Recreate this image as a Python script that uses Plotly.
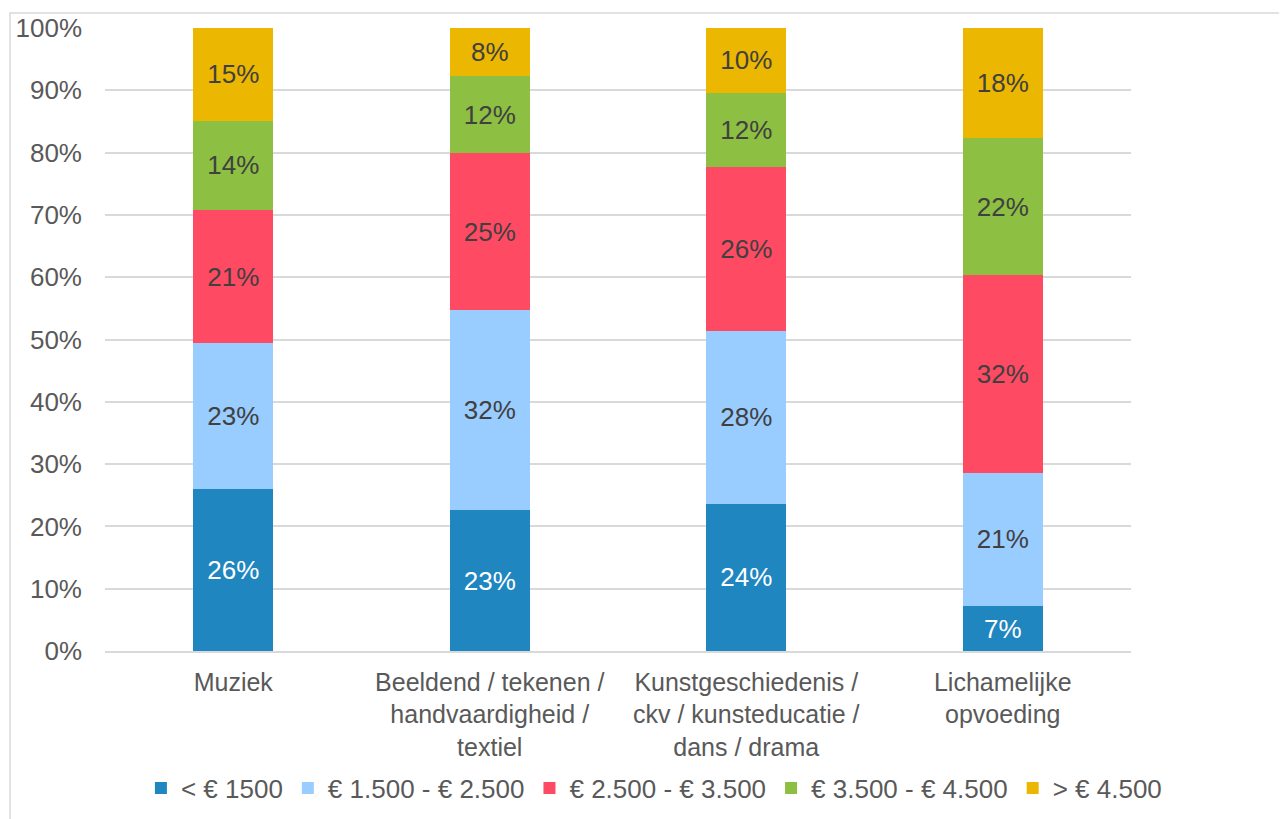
import plotly.graph_objects as go

categories = ["Muziek",
              "Beeldend / tekenen /<br>handvaardigheid /<br>textiel",
              "Kunstgeschiedenis /<br>ckv / kunsteducatie /<br>dans / drama",
              "Lichamelijke<br>opvoeding"]
series_names = ["< € 1500", "€ 1.500 - € 2.500", "€ 2.500 - € 3.500",
                "€ 3.500 - € 4.500", "> € 4.500"]
under_1500 = [0.260, 0.226, 0.236, 0.072]
from_1500_2500 = [0.234, 0.321, 0.278, 0.214]
from_2500_3500 = [0.214, 0.252, 0.263, 0.317]
from_3500_4500 = [0.143, 0.124, 0.119, 0.220]
over_4500 = [0.149, 0.077, 0.104, 0.177]
colors = ["#1F86C0", "#99CCFF", "#FF4A63", "#8DBF42", "#EBB700"]
label_colors = ["white", "#404040", "#404040", "#404040", "#404040"]

fig = go.Figure()
for name, vals, col, lc in zip(series_names,
                               [under_1500, from_1500_2500, from_2500_3500, from_3500_4500, over_4500],
                               colors, label_colors):
    fig.add_trace(go.Bar(x=categories, y=vals, name=name, marker=dict(color=col, line=dict(width=0)),
                         texttemplate="%{y:.0%}", textposition="inside", insidetextanchor="middle",
                         textfont=dict(color=lc, size=26), constraintext="none"))

# page body has an 8px margin, so the figure is 8px smaller and margins shifted
fig.update_layout(barmode="stack", bargap=0.688, width=1279, height=811,
                  margin=dict(l=97, r=156, t=20, b=168, autoexpand=False),
                  plot_bgcolor="white", paper_bgcolor="white",
                  font=dict(family="Liberation Sans, Arial", size=26, color="#595959"),
                  legend=dict(orientation="h", x=0.535, xanchor="center", y=-0.22, yanchor="middle",
                              font=dict(size=26, color="#595959"), traceorder="normal", itemwidth=30),
                  shapes=[dict(type="rect", xref="paper", yref="paper", x0=-0.0926, x1=1.3,
                               y0=-0.4, y1=1.0241, line=dict(color="#D9D9D9", width=1.5), layer="below")])
fig.update_yaxes(range=[0, 1], tickformat=".0%", dtick=0.1, showgrid=True, gridcolor="#D9D9D9",
                 gridwidth=1.5, zeroline=False, ticks="", ticklabelstandoff=22, automargin=False,
                 tickfont=dict(size=26, color="#595959"))
fig.update_xaxes(showline=True, linecolor="#D9D9D9", linewidth=1.5, ticks="", ticklabelstandoff=8,
                 automargin=False, tickfont=dict(size=25, color="#595959"))

fig.write_html("out.html")
